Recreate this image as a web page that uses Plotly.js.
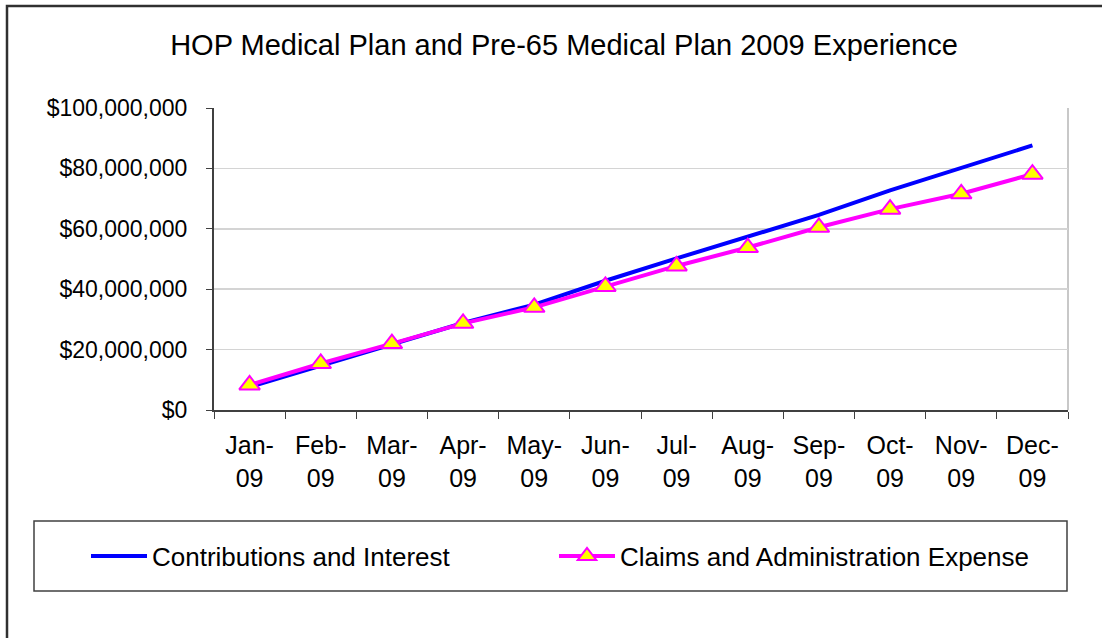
<!DOCTYPE html>
<html>
<head>
<meta charset="utf-8">
<script src="https://cdn.plot.ly/plotly-3.0.1.min.js"></script>
<style>html,body{margin:0;padding:0;background:#fff;}#chart{width:1102px;height:638px;}</style>
</head>
<body>
<div id="chart"></div>
<script>
const months = ["Jan-<br>09","Feb-<br>09","Mar-<br>09","Apr-<br>09","May-<br>09","Jun-<br>09","Jul-<br>09","Aug-<br>09","Sep-<br>09","Oct-<br>09","Nov-<br>09","Dec-<br>09"];
const contributions = [7.6e6, 14.6e6, 21.6e6, 28.8e6, 34.9e6, 42.8e6, 50.2e6, 57.4e6, 64.6e6, 72.7e6, 80.1e6, 87.6e6];
const claims = [8.3e6, 15.4e6, 22.0e6, 28.7e6, 34.0e6, 40.9e6, 47.7e6, 53.8e6, 60.5e6, 66.5e6, 71.6e6, 78.1e6];
const seriesNames = ["Contributions and Interest", "Claims and Administration Expense"];
const chartTitle = "HOP Medical Plan and Pre-65 Medical Plan 2009 Experience";

const W = 1102, H = 638;
const L = 214, R = 1068, T = 108, B = 410;
const px = x => (x - L) / (R - L);
const py = y => (B - y) / (B - T);
const FONT = 'Arial, "Liberation Sans", sans-serif';

const traces = [
  {
    x: months, y: contributions, name: seriesNames[0], type: 'scatter', mode: 'lines',
    line: {color: '#0000FF', width: 4}, cliponaxis: false, legend: 'legend'
  },
  {
    x: months, y: claims, name: seriesNames[1], type: 'scatter', mode: 'lines+markers',
    line: {color: '#FF00FF', width: 4},
    marker: {symbol: 'triangle-up', size: 18, color: '#FFFF00', line: {color: '#FF00FF', width: 2}},
    cliponaxis: false, legend: 'legend2'
  }
];

const legendBase = {
  orientation: 'h', xanchor: 'left', y: py(556), yanchor: 'middle',
  bgcolor: 'rgba(0,0,0,0)', borderwidth: 0, itemwidth: 56,
  font: {family: FONT, size: 26, color: '#000'}
};

const layout = {
  width: W, height: H,
  margin: {l: L, r: W - R, t: T, b: H - B, pad: 0},
  paper_bgcolor: '#ffffff', plot_bgcolor: '#ffffff',
  showlegend: true,
  title: {text: chartTitle, font: {family: FONT, size: 29, color: '#000'}, x: 564 / W, xanchor: 'center', y: 1 - 45 / H, yanchor: 'middle'},
  xaxis: {
    type: 'category', range: [-0.5, 11.5], tickson: 'boundaries',
    ticks: 'outside', ticklen: 7, tickwidth: 1, tickcolor: '#404040',
    showline: true, linecolor: '#404040', linewidth: 2,
    showgrid: false, zeroline: false, ticklabelstandoff: 12,
    tickfont: {family: FONT, size: 25, color: '#000'}, fixedrange: true
  },
  yaxis: {
    range: [0, 100e6], dtick: 20e6, tick0: 0, tickformat: '$,.0f',
    ticks: 'outside', ticklen: 6, tickwidth: 1, tickcolor: '#404040',
    showline: true, linecolor: '#404040', linewidth: 2,
    showgrid: true, gridcolor: '#d4d4d4', gridwidth: 1.5, zeroline: false,
    tickfont: {family: FONT, size: 23, color: '#000'}, ticklabelstandoff: 14, fixedrange: true
  },
  legend: Object.assign({}, legendBase, {x: px(86)}),
  legend2: Object.assign({}, legendBase, {x: px(554)}),
  shapes: [
    {type: 'line', xref: 'paper', yref: 'paper', x0: 1, x1: 1, y0: 0, y1: 1, line: {color: '#c8c8c8', width: 2}, layer: 'below'},
    {type: 'rect', xref: 'paper', yref: 'paper', x0: px(34), x1: px(1067), y0: py(521), y1: py(591), line: {color: '#404040', width: 1.5}, fillcolor: 'rgba(0,0,0,0)'},
    {type: 'rect', xref: 'paper', yref: 'paper', x0: px(7), x1: px(1130), y0: py(6), y1: py(700), line: {color: '#303030', width: 2.5}, fillcolor: 'rgba(0,0,0,0)'}
  ]
};

Plotly.newPlot('chart', traces, layout, {displayModeBar: false, staticPlot: true});
</script>
</body>
</html>
